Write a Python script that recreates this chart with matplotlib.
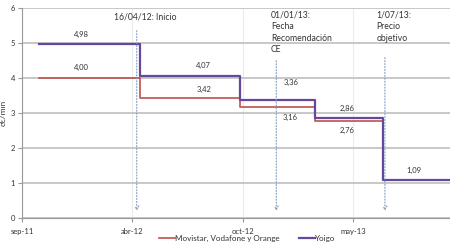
import matplotlib
matplotlib.use("Agg")
import matplotlib.pyplot as plt
import matplotlib.dates as mdates
import datetime as dt

plt.rcParams['font.family'] = ['Lato', 'DejaVu Sans']

# ---- data ----
step_dates = ['2011-10-16', '2012-04-16', '2012-10-16', '2013-03-01', '2013-07-01']
end_date = '2013-10-31'
movistar = [4.00, 3.42, 3.16, 2.76, 1.09]
yoigo = [4.98, 4.07, 3.36, 2.86, 1.09]
series_names = ['Movistar, Vodafone y Orange', 'Yoigo']

tick_labels = ['sep-11', 'abr-12', 'oct-12', 'may-13']
axis_origin = '2011-09-16'
tick_step_days = 200

event_dates = ['2012-04-11', '2012-12-20', '2013-07-05']
event_texts = ['16/04/12: Inicio', '01/01/13:\nFecha\nRecomendación\nCE', '1/07/13:\nPrecio\nobjetivo']

# ---- styling / layout ----
red = '#c0504d'
purple = '#64489c'
arrow_c = '#7f9cc0'
txt_c = '#333333'

def d(s):
    return mdates.date2num(dt.datetime.strptime(s, '%Y-%m-%d'))

xs = [d(s) for s in step_dates] + [d(end_date)]

fig = plt.figure(figsize=(4.5, 2.48), dpi=100)
ax = fig.add_axes([0.049, 0.121, 0.951, 0.847])

x0 = d(axis_origin)
ticks = [x0 + i * tick_step_days for i in range(len(tick_labels))]
ax.set_xlim(x0, d(end_date))
ax.set_ylim(0, 6)
ax.set_xticks(ticks)
ax.set_xticklabels(tick_labels)
ax.set_yticks(range(0, 7))

ax.grid(axis='y', color='#c4c4c4', lw=1.3)
ax.grid(axis='x', color='#ececec', lw=0.8)
ax.set_axisbelow(True)
for s in ['top', 'right']:
    ax.spines[s].set_visible(False)
for s in ['left', 'bottom']:
    ax.spines[s].set_color('#999999')
    ax.spines[s].set_linewidth(0.8)
ax.tick_params(axis='both', colors='#999999', length=3, width=0.8, labelsize=5.5,
               labelcolor=txt_c, pad=2)
ax.tick_params(axis='x', pad=4)

ax.step(xs, movistar + [movistar[-1]], where='post', color=red, lw=1.2, label=series_names[0])
ax.step(xs, yoigo + [yoigo[-1]], where='post', color=purple, lw=1.6, label=series_names[1])

# value labels (horizontal shift in days relative to segment centre, vertical offset)
fs = 5.5
shift = [-14, 25, 23, -4, -5]
y_off_yoigo = [0.26, 0.28, 0.5, 0.28, 0.27]
y_off_mov = [0.3, 0.26, -0.3, -0.27, None]

def fmt(v):
    return f"{v:.2f}".replace('.', ',')

for i in range(len(step_dates)):
    xm = (xs[i] + xs[i + 1]) / 2 + shift[i]
    ax.text(xm, yoigo[i] + y_off_yoigo[i], fmt(yoigo[i]), ha='center', va='center', fontsize=fs, color=txt_c)
    if y_off_mov[i] is not None:
        ax.text(xm, movistar[i] + y_off_mov[i], fmt(movistar[i]), ha='center', va='center', fontsize=fs, color=txt_c)

# event arrows and texts
arrow_tops = [5.43, 4.57, 4.66]
for ed, top in zip(event_dates, arrow_tops):
    xe = d(ed)
    ax.annotate('', xy=(xe, 0.12), xytext=(xe, top),
                arrowprops=dict(arrowstyle='->', color=arrow_c, lw=0.8, linestyle=':',
                                mutation_scale=7))
ax.text(d('2012-03-01'), 5.73, event_texts[0], fontsize=6.2, color=txt_c, va='center', ha='left')
ax.text(d('2012-12-10'), 5.93, event_texts[1], fontsize=6.2, color=txt_c, va='top', ha='left', linespacing=1.38)
ax.text(d('2013-06-20'), 5.93, event_texts[2], fontsize=6.2, color=txt_c, va='top', ha='left', linespacing=1.38)

ax.set_ylabel('c€/min', fontsize=6, color=txt_c)
ax.yaxis.set_label_coords(-0.036, 0.5)

leg = fig.legend(loc='lower center', bbox_to_anchor=(0.55, -0.005), ncol=2, frameon=False,
                 fontsize=5.8, handlelength=1.9, handletextpad=0.1, columnspacing=2.4)
for t in leg.get_texts():
    t.set_color(txt_c)

fig.savefig('out.png', dpi=100)
